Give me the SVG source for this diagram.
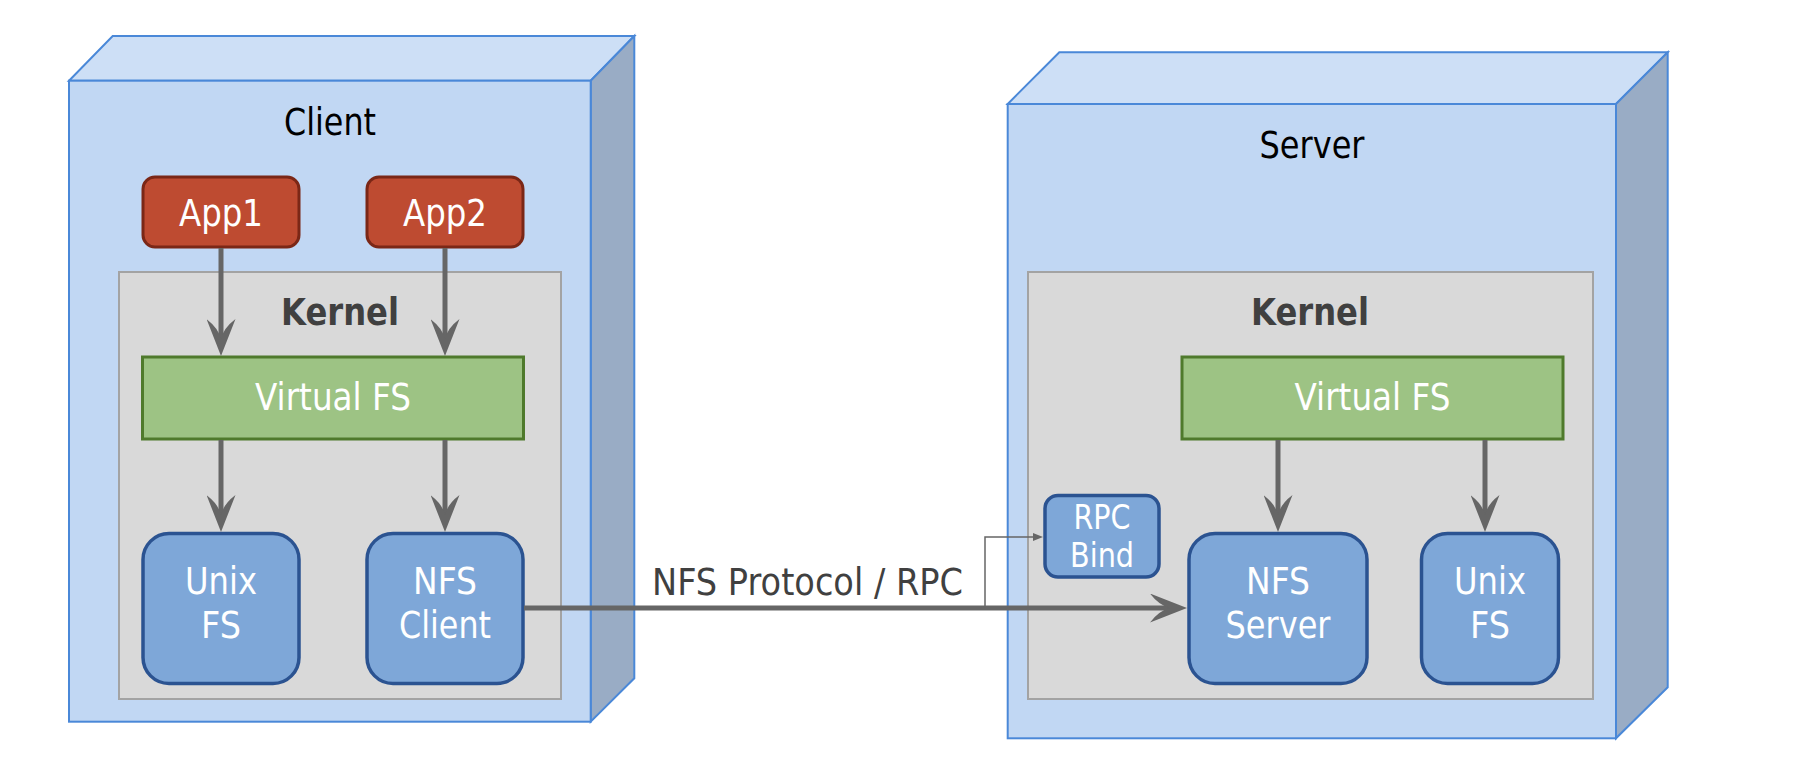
<svg xmlns="http://www.w3.org/2000/svg" width="1796" height="760" viewBox="0 0 1796 760">
<style>
  text { font-family: "DejaVu Sans", "Liberation Sans", sans-serif; text-anchor: middle; }
  .front { fill: #c1d7f3; stroke: #4a88d8; stroke-width: 2; stroke-linejoin: miter; }
  .top { fill: #cddff6; stroke: #4a88d8; stroke-width: 2; stroke-linejoin: miter; }
  .side { fill: #99acc5; stroke: #4a88d8; stroke-width: 2; stroke-linejoin: miter; }
  .title { font-size: 37px; fill: #000000; }
  .kernel { fill: #d9d9d9; stroke: #a3a3a3; stroke-width: 2; }
  .klabel { font-size: 37px; font-weight: bold; fill: #404040; }
  .app { fill: #be4b31; stroke: #7b2716; stroke-width: 3; }
  .vfs { fill: #9dc384; stroke: #4f7a2c; stroke-width: 3; }
  .blue { fill: #7ea7d8; stroke: #2b5391; stroke-width: 3.5; }
  .wt { font-size: 37px; fill: #ffffff; }
  .wts { font-size: 33px; fill: #ffffff; }
  .conn { fill: none; stroke: #666666; stroke-width: 5; }
  .thin { fill: none; stroke: #666666; stroke-width: 1.5; }
  .plabel { font-size: 37px; fill: #404040; }
</style>
<defs>
  <marker id="ah" markerUnits="userSpaceOnUse" viewBox="0 0 37 29" markerWidth="37" markerHeight="29" refX="22" refY="14.5" orient="auto">
    <path d="M37,14.5 L0,0 Q9,12 20,14.5 Q9,17 0,29 Z" fill="#666666"/>
  </marker>
  <marker id="ahs" markerUnits="userSpaceOnUse" viewBox="0 0 10 8" markerWidth="10" markerHeight="8" refX="7" refY="4" orient="auto">
    <path d="M10,4 L0,0 L0,8 Z" fill="#666666"/>
  </marker>
</defs>

<g id="client">
  <polygon class="top" points="69,80.7 112.7,36 634.3,36 590.7,80.7"/>
  <polygon class="side" points="590.7,80.7 634.3,36 634.3,678.3 590.7,721.7"/>
  <rect class="front" x="69" y="80.7" width="521.7" height="641"/>
  <text class="title" x="330" y="135" textLength="92" lengthAdjust="spacingAndGlyphs">Client</text>
</g>

<g id="server">
  <polygon class="top" points="1007.7,104 1059.3,52.3 1667.7,52.3 1616,104"/>
  <polygon class="side" points="1616,104 1667.7,52.3 1667.7,687.3 1616,738.3"/>
  <rect class="front" x="1007.7" y="104" width="608.3" height="634.3"/>
  <text class="title" x="1312" y="157.5" textLength="105" lengthAdjust="spacingAndGlyphs">Server</text>
</g>

<g id="client-kernel">
  <rect class="kernel" x="119" y="272" width="442" height="427"/>
  <text class="klabel" x="340" y="325" textLength="118" lengthAdjust="spacingAndGlyphs">Kernel</text>
</g>

<g id="server-kernel">
  <rect class="kernel" x="1028" y="272" width="565" height="427"/>
  <text class="klabel" x="1310" y="325" textLength="118" lengthAdjust="spacingAndGlyphs">Kernel</text>
</g>

<g id="app1">
  <rect class="app" x="143" y="177" width="156" height="70" rx="12" ry="12"/>
  <text class="wt" x="221" y="225.5" textLength="84" lengthAdjust="spacingAndGlyphs">App1</text>
</g>

<g id="app2">
  <rect class="app" x="367" y="177" width="156" height="70" rx="12" ry="12"/>
  <text class="wt" x="445" y="225.5" textLength="84" lengthAdjust="spacingAndGlyphs">App2</text>
</g>

<g id="client-vfs">
  <rect class="vfs" x="142.5" y="357" width="381" height="82"/>
  <text class="wt" x="333" y="409.5" textLength="156" lengthAdjust="spacingAndGlyphs">Virtual FS</text>
</g>

<g id="client-unixfs">
  <rect class="blue" x="143" y="533.5" width="156" height="150" rx="26" ry="26"/>
  <text class="wt" x="221" y="593.5" textLength="72" lengthAdjust="spacingAndGlyphs">Unix</text>
  <text class="wt" x="221" y="637.5" textLength="40" lengthAdjust="spacingAndGlyphs">FS</text>
</g>

<g id="nfs-client">
  <rect class="blue" x="367" y="533.5" width="156" height="150" rx="26" ry="26"/>
  <text class="wt" x="445" y="593.5" textLength="64" lengthAdjust="spacingAndGlyphs">NFS</text>
  <text class="wt" x="445" y="637.5" textLength="92" lengthAdjust="spacingAndGlyphs">Client</text>
</g>

<g id="server-vfs">
  <rect class="vfs" x="1182" y="357" width="381" height="82"/>
  <text class="wt" x="1372.5" y="409.5" textLength="156" lengthAdjust="spacingAndGlyphs">Virtual FS</text>
</g>

<g id="rpc-bind">
  <rect class="blue" x="1045" y="495.5" width="114" height="81.5" rx="13" ry="13"/>
  <text class="wts" x="1102" y="528.5" textLength="57" lengthAdjust="spacingAndGlyphs">RPC</text>
  <text class="wts" x="1102" y="566.5" textLength="64" lengthAdjust="spacingAndGlyphs">Bind</text>
</g>

<g id="nfs-server">
  <rect class="blue" x="1189" y="533.5" width="178" height="150" rx="26" ry="26"/>
  <text class="wt" x="1278" y="593.5" textLength="64" lengthAdjust="spacingAndGlyphs">NFS</text>
  <text class="wt" x="1278" y="637.5" textLength="105" lengthAdjust="spacingAndGlyphs">Server</text>
</g>

<g id="server-unixfs">
  <rect class="blue" x="1421.5" y="533.5" width="137" height="150" rx="26" ry="26"/>
  <text class="wt" x="1490" y="593.5" textLength="72" lengthAdjust="spacingAndGlyphs">Unix</text>
  <text class="wt" x="1490" y="637.5" textLength="40" lengthAdjust="spacingAndGlyphs">FS</text>
</g>

<g id="connectors">
  <path class="conn" d="M221,248 V341" marker-end="url(#ah)"/>
  <path class="conn" d="M445,248 V341" marker-end="url(#ah)"/>
  <path class="conn" d="M221,440 V517" marker-end="url(#ah)"/>
  <path class="conn" d="M445,440 V517" marker-end="url(#ah)"/>
  <path class="conn" d="M1278,440 V517" marker-end="url(#ah)"/>
  <path class="conn" d="M1485,440 V517" marker-end="url(#ah)"/>
  <path class="conn" d="M524,608 H1172" marker-end="url(#ah)"/>
  <path class="thin" d="M985,608 V537 H1040" marker-end="url(#ahs)"/>
  <text class="plabel" x="807.5" y="595" textLength="311" lengthAdjust="spacingAndGlyphs">NFS Protocol / RPC</text>
</g>
</svg>
